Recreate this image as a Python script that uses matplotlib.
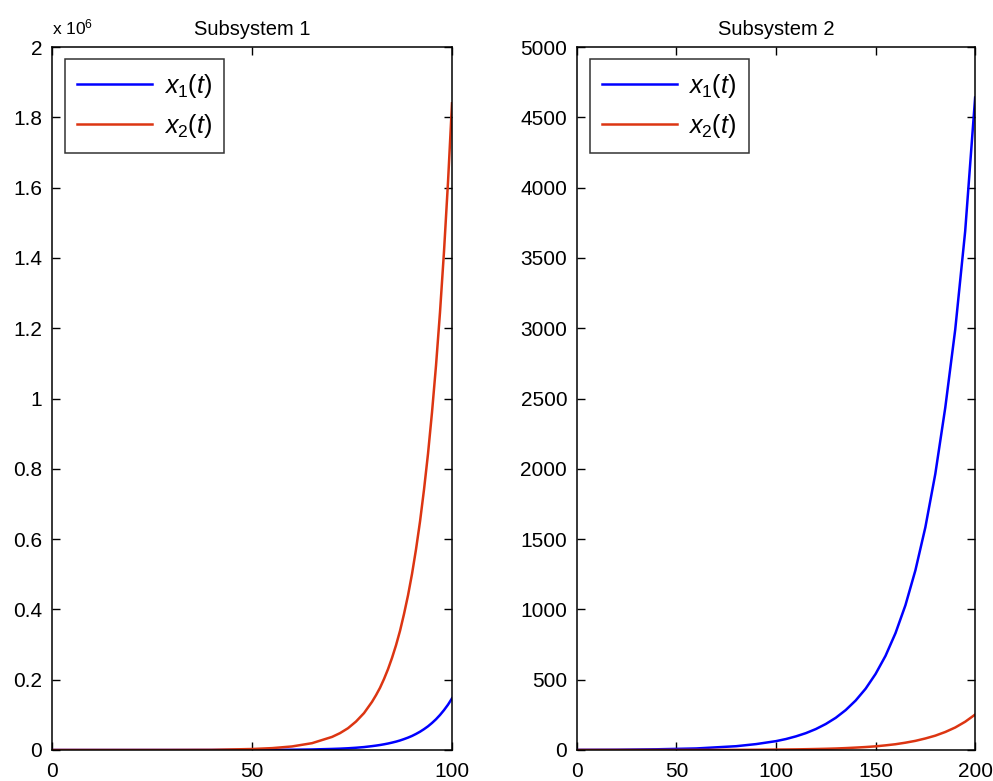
import matplotlib
matplotlib.use("Agg")
import matplotlib.pyplot as plt

plt.rcParams['font.family'] = ['Liberation Sans', 'DejaVu Sans']
plt.rcParams['mathtext.fontset'] = 'custom'
plt.rcParams['mathtext.it'] = 'Liberation Sans:italic'
plt.rcParams['mathtext.rm'] = 'Liberation Sans'
plt.rcParams['mathtext.default'] = 'it'

# Subsystem 1 (values in units of 1e6)
t1 = [0, 10, 20, 30, 40, 50, 55, 60, 65, 70, 72, 74, 76, 78,
      80, 81, 82, 83, 84, 85, 86, 87, 88, 89, 90,
      91, 92, 93, 94, 95, 96, 97, 98, 99, 100]
s1_x2 = [0.0, 0.00001, 0.00003, 0.0001, 0.0004, 0.0028, 0.0053, 0.0101, 0.0194, 0.0372,
         0.048, 0.062, 0.081, 0.105,
         0.137, 0.156, 0.177, 0.202, 0.230, 0.262, 0.298, 0.339, 0.387, 0.440, 0.501,
         0.571, 0.650, 0.741, 0.843, 0.961, 1.094, 1.246, 1.419, 1.616, 1.840]
s1_x1 = [0.0, 0.0, 0.0, 0.00001, 0.00003, 0.0002, 0.0004, 0.0008, 0.0015, 0.003,
         0.0038, 0.0049, 0.0064, 0.0083,
         0.011, 0.0125, 0.0142, 0.0162, 0.0184, 0.021, 0.0238, 0.0271, 0.031, 0.0352, 0.040,
         0.0457, 0.052, 0.0593, 0.0674, 0.0769, 0.0875, 0.0997, 0.1135, 0.129, 0.147]

# Subsystem 2
t2 = [0, 20, 40, 60, 80, 90, 100, 105, 110, 115, 120, 125, 130, 135, 140, 145,
      150, 155, 160, 165, 170, 175, 180, 185, 190, 195, 200]
s2_x1 = [1, 2, 5, 11, 27, 42, 63, 78, 97, 120, 149, 185, 229, 284, 352, 436,
         541, 670, 831, 1030, 1278, 1584, 1964, 2435, 2990, 3690, 4641]
s2_x2 = [0, 0.05, 0.1, 0.3, 0.9, 1.6, 3, 3.6, 4.4, 5.6, 7, 8.6, 10.6, 13.5, 17, 21,
         26, 33, 41, 52, 65, 82, 102, 128, 160, 201, 252]

blue = '#0000ff'
red = '#dc3512'

fig = plt.figure(figsize=(9.93, 7.81), dpi=100)
ax1 = fig.add_axes([0.0524, 0.0397, 0.4028, 0.900])
ax2 = fig.add_axes([0.581, 0.0397, 0.401, 0.900])

lab1 = r'$x_{1}(t)$'
lab2 = r'$x_{2}(t)$'

ax1.plot(t1, s1_x1, color=blue, lw=1.8, label=lab1)
ax1.plot(t1, s1_x2, color=red, lw=1.8, label=lab2)
ax1.set_xlim(0, 100)
ax1.set_ylim(0, 2)
ax1.set_xticks([0, 50, 100])
ax1.set_yticks([i * 0.2 for i in range(11)])
ax1.set_yticklabels(['0', '0.2', '0.4', '0.6', '0.8', '1', '1.2', '1.4', '1.6', '1.8', '2'])
ax1.set_title('Subsystem 1', fontsize=14.5, pad=9)
ax1.text(0.0, 1.014, r'x 10$^{\mathrm{6}}$', transform=ax1.transAxes, fontsize=12.5,
         ha='left', va='bottom')

ax2.plot(t2, s2_x1, color=blue, lw=1.8, label=lab1)
ax2.plot(t2, s2_x2, color=red, lw=1.8, label=lab2)
ax2.set_xlim(0, 200)
ax2.set_ylim(0, 5000)
ax2.set_xticks([0, 50, 100, 150, 200])
ax2.set_yticks(range(0, 5001, 500))
ax2.set_title('Subsystem 2', fontsize=14.5, pad=9)

for ax in (ax1, ax2):
    ax.tick_params(direction='in', length=6, width=1, labelsize=15,
                   top=True, right=True, pad=7)
    ax.tick_params(axis='x', pad=9)
    for sp in ax.spines.values():
        sp.set_linewidth(1.1)
    leg = ax.legend(loc='upper left', bbox_to_anchor=(0.032, 0.983), fontsize=18,
                    frameon=True, fancybox=False, edgecolor='black',
                    handlelength=3.0, handletextpad=0.45, borderpad=0.5,
                    labelspacing=0.5, borderaxespad=0)
    leg.get_frame().set_linewidth(1.1)

fig.savefig('out.png', dpi=100)
